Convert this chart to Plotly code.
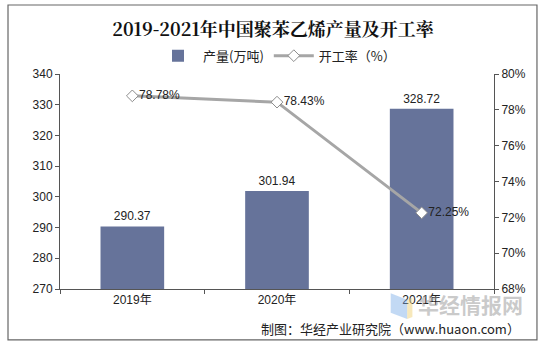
import plotly.graph_objects as go

years = ["2019年", "2020年", "2021年"]
output = [290.37, 301.94, 328.72]
rate = [78.78, 78.43, 72.25]
left_ticks = [270, 280, 290, 300, 310, 320, 330, 340]
right_ticks = [68, 70, 72, 74, 76, 78, 80]

font_main = "Liberation Sans, Arial, Noto Sans CJK SC, sans-serif"

fig = go.Figure()
fig.add_trace(go.Bar(
    x=years, y=output, name="产量(万吨)",
    marker=dict(color="#66739A", line=dict(width=0)),
    width=0.44,
    text=[f"{v:.2f}" for v in output], textposition="outside",
    textfont=dict(size=12, color="#222", family=font_main),
    cliponaxis=False,
))
fig.add_trace(go.Scatter(
    x=years, y=rate, name="开工率（%）", yaxis="y2",
    mode="lines+markers+text",
    line=dict(color="#A6A6A6", width=3),
    marker=dict(symbol="diamond", size=9, color="white", line=dict(color="#8C8C8C", width=1)),
    text=[f"{v:.2f}%" for v in rate], textposition="middle right",
    textfont=dict(size=12, color="#222", family=font_main),
    cliponaxis=False,
))

fig.update_layout(
    width=546, height=348,
    margin=dict(l=60, r=52, t=74, b=59),
    paper_bgcolor="white", plot_bgcolor="white",
    font=dict(family=font_main, size=12, color="#222"),
    title=dict(text="<b>2019-2021年中国聚苯乙烯产量及开工率</b>",
               x=0.5, xanchor="center", y=0.915, yanchor="middle",
               font=dict(size=18, family="Noto Serif CJK SC, Noto Sans CJK SC, serif", color="#111")),
    showlegend=True,
    legend=dict(orientation="h", x=0.5, xanchor="center", y=1.085, yanchor="middle",
                font=dict(size=13, family="Noto Sans CJK SC, sans-serif"), itemwidth=40,
                bgcolor="rgba(0,0,0,0)", traceorder="normal"),
    bargap=0.56,
    xaxis=dict(showline=True, linecolor="#555", linewidth=1, ticks="outside",
               tickson="boundaries", ticklen=4, tickcolor="#555",
               tickfont=dict(size=12, family=font_main), showgrid=False),
    yaxis=dict(range=[270, 340], tickvals=left_ticks, showline=True, linecolor="#555",
               linewidth=1, ticks="outside", ticklen=4, tickcolor="#555", showgrid=False,
               zeroline=False, tickfont=dict(size=12, family=font_main)),
    yaxis2=dict(range=[68, 80], tickvals=right_ticks, ticktext=[f"{v}%" for v in right_ticks],
                overlaying="y", side="right", showline=True, linecolor="#555", linewidth=1,
                ticks="outside", ticklen=4, tickcolor="#555", showgrid=False, zeroline=False,
                tickfont=dict(size=12, family=font_main)),
)

# outer border
fig.add_shape(type="rect", xref="paper", yref="paper",
              x0=-0.1198, x1=1.099, y0=-0.237, y1=1.321,
              line=dict(color="#666", width=1.2), fillcolor="rgba(0,0,0,0)", layer="below")

# watermark logo block
fig.add_shape(type="path", xref="paper", yref="paper",
              path="M 0.762 -0.02 L 0.800 -0.05 L 0.800 -0.14 L 0.762 -0.11 Z",
              fillcolor="rgba(120,170,230,0.45)", line=dict(width=0))
fig.add_shape(type="path", xref="paper", yref="paper",
              path="M 0.800 -0.05 L 0.812 -0.04 L 0.812 -0.13 L 0.800 -0.14 Z",
              fillcolor="rgba(240,210,120,0.5)", line=dict(width=0))
# watermark
fig.add_annotation(text="<b>华经情报网</b>", xref="paper", yref="paper", x=1.072, y=-0.07,
                   xanchor="right", yanchor="middle", showarrow=False,
                   font=dict(size=21, color="rgba(150,150,150,0.5)", family="Noto Sans CJK SC"))
fig.add_annotation(text="制图：华经产业研究院（www.huaon.com）", xref="paper", yref="paper",
                   x=1.065, y=-0.185, xanchor="right", yanchor="middle", showarrow=False,
                   font=dict(size=13, color="#222", family="Noto Sans CJK SC, sans-serif"))

fig.write_html("out.html")
